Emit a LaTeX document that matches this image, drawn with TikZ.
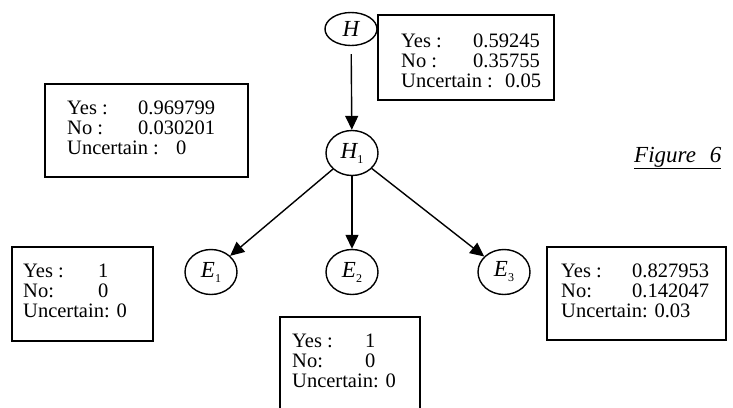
\documentclass[tikz,border=0pt]{standalone}
\usepackage{fontspec}
\setmainfont{Liberation Serif}
\usepackage{tikz}
\usetikzlibrary{arrows.meta,positioning,shapes.geometric}
\newcommand{\lowsub}[1]{\raisebox{-5pt}{\fontsize{12}{12}\selectfont\upshape #1}}
\tikzset{
  vnode/.style={draw, ellipse, line width=1.4pt, inner sep=0pt,
      minimum width=52pt, minimum height=45pt, font=\fontsize{23}{23}\selectfont\itshape},
  stat/.style={anchor=base west, align=left, inner sep=0pt,
      font=\fontsize{20.5}{20}\selectfont},
  frame/.style={line width=1.4pt},
  barr/.style={-{Triangle[length=14pt, width=13pt]}, line width=1.4pt},
  figl/.style={anchor=base west, inner sep=0pt, font=\fontsize{23}{23}\selectfont\itshape},
}

\begin{document}
\begin{tikzpicture}[x=1pt, y=-1pt]
  \useasboundingbox (0,0) rectangle (733,407);
  % variables
  \node[vnode, minimum height=33pt] (h)  at (351,29)  {H};
  \node[vnode] (h1) at (352,153) {H\lowsub{1}};
  \node[vnode] (e1) at (211,272) {E\lowsub{1}};
  \node[vnode] (e2) at (352,272) {E\lowsub{2}};
  \node[vnode] (e3) at (504,272) {E\lowsub{3}};
  \draw[barr, shorten <=8pt] (h) -- (h1);
  \draw[barr] (h1) -- (e1);
  \draw[barr] (h1) -- (e2);
  \draw[barr] (h1) -- (e3);
  % belief tables (node base = last line)
  \draw[frame] (378,15) rectangle (554,100);
  \node[stat] (hstat) at (401,87)
    {\makebox[72pt][l]{Yes :}0.59245\\ \makebox[72pt][l]{No :}0.35755\\
     \makebox[104pt][l]{Uncertain :}0.05};
  \draw[frame] (45,84) rectangle (248,177);
  \node[stat] (h1stat) at (67,154)
    {\makebox[71pt][l]{Yes :}0.969799\\ \makebox[71pt][l]{No :}0.030201\\
     \makebox[109pt][l]{Uncertain :}0};
  \draw[frame] (12,247) rectangle (153,341);
  \node[stat] (e1stat) at (23,317)
    {\makebox[75pt][l]{Yes :}1\\ \makebox[75pt][l]{No:}0\\ Uncertain: 0};
  \draw[frame] (280,440) -- (280,317) -- (420,317) -- (420,440);
  \node[stat] (e2stat) at (292,387)
    {\makebox[73pt][l]{Yes :}1\\ \makebox[73pt][l]{No:}0\\ Uncertain: 0};
  \draw[frame] (547,247) rectangle (726,340);
  \node[stat] (e3stat) at (561,317)
    {\makebox[71pt][l]{Yes :}0.827953\\ \makebox[71pt][l]{No:}0.142047\\
     Uncertain: 0.03};
  \node[figl] (fig) at (634,162) {\underline{Figure\hspace{14pt}6}};
\end{tikzpicture}
\end{document}
